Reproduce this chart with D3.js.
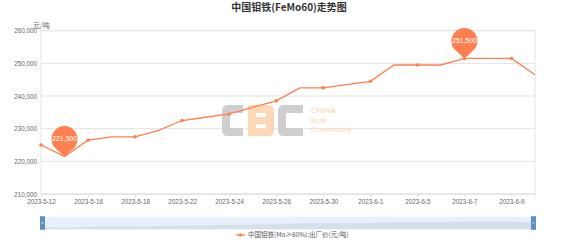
<!DOCTYPE html>
<html><head><meta charset="utf-8">
<script src="https://cdn.jsdelivr.net/npm/d3@7"></script>
<style>
html,body{margin:0;padding:0;background:#fff;}
svg{display:block;font-family:"Liberation Sans",Arial,sans-serif;}
</style></head>
<body><svg id="c" width="576" height="245"></svg>
<script>
const dates = ["2023-5-12","2023-5-15","2023-5-16","2023-5-17","2023-5-18","2023-5-19","2023-5-22","2023-5-23","2023-5-24","2023-5-25","2023-5-26","2023-5-29","2023-5-30","2023-5-31","2023-6-1","2023-6-2","2023-6-5","2023-6-6","2023-6-7","2023-6-8","2023-6-9","2023-6-12"];
const prices = [225000,221500,226500,227500,227500,229500,232500,233500,234500,236500,238500,242500,242500,243500,244500,249500,249500,249500,251500,251500,251500,246500];
const xTickLabels = ["2023-5-12","2023-5-16","2023-5-18","2023-5-22","2023-5-24","2023-5-26","2023-5-30","2023-6-1","2023-6-5","2023-6-7","2023-6-9"];
const yTicks = [210000,220000,230000,240000,250000,260000];
const pinLabels = [{date:"2023-5-15", value:221500, text:"221,500"},{date:"2023-6-7", value:251500, text:"251,500"}];
const title = "中国钼铁(FeMo60)走势图";
const unitLabel = "元/吨";
const legendLabel = "中国钼铁(Mo≥60%):出厂价(元/吨)";

const color = "#ff7f50";
const svg = d3.select("#c");
const L = 41, R = 535, T = 30.7, B = 194;
const x = d3.scalePoint().domain(dates).range([L, R]);
const y = d3.scaleLinear().domain([210000, 260000]).range([B, T]);

// title
svg.append("text").attr("x", 289).attr("y", 10.5).attr("text-anchor","middle")
  .attr("font-size", 10).attr("font-weight","bold").attr("fill","#333")
  .attr("font-family","'Noto Sans CJK SC','Liberation Sans',sans-serif").text(title);
svg.append("text").attr("x", 33).attr("y", 27.5).attr("font-size", 7).attr("fill","#666")
  .attr("font-family","'Noto Sans CJK SC',sans-serif").text(unitLabel);

// grid
svg.append("g").selectAll("line").data(yTicks).join("line")
  .attr("x1", L).attr("x2", R).attr("y1", d=>y(d)).attr("y2", d=>y(d))
  .attr("stroke","#e3e3e3").attr("stroke-width",1);
svg.append("rect").attr("x",L).attr("y",T).attr("width",R-L).attr("height",B-T)
  .attr("fill","none").attr("stroke","#e3e3e3");

// y axis
const yAxis = d3.axisLeft(y).tickValues(yTicks).tickSize(0).tickPadding(4).tickFormat(d3.format(","));
const gy = svg.append("g").attr("transform",`translate(${L},0)`).call(yAxis);
gy.select(".domain").remove();
gy.selectAll("text").attr("font-size",6.3).attr("fill","#666").attr("font-family","'Liberation Sans',Arial,sans-serif");

// x axis
const xAxis = d3.axisBottom(x).tickValues(xTickLabels).tickSize(3).tickPadding(3);
const gx = svg.append("g").attr("transform",`translate(0,${B})`).call(xAxis);
gx.select(".domain").attr("stroke","#e3e3e3");
gx.selectAll(".tick line").attr("stroke","#ddd");
gx.selectAll("text").attr("font-size",6.3).attr("fill","#666").attr("font-family","'Liberation Sans',Arial,sans-serif");

// watermark CBC
const wm = svg.append("g").attr("opacity",1);
function cShape(x0, y0, w, h, fill){
  const t = 8, r = 6;
  const p = `M${x0+r},${y0} H${x0+w} V${y0+t} H${x0+t} V${y0+h-t} H${x0+w} V${y0+h} H${x0+r} Q${x0},${y0+h} ${x0},${y0+h-r} V${y0+r} Q${x0},${y0} ${x0+r},${y0} Z`;
  wm.append("path").attr("d",p).attr("fill",fill);
}
cShape(222, 105, 21, 31, "#cfcfcf");
// B
(function(){
  const x0=248,y0=105,w=26,h=31,t=8;
  wm.append("path").attr("d",
    `M${x0},${y0} H${x0+w-6} Q${x0+w},${y0} ${x0+w},${y0+6} V${y0+h-6} Q${x0+w},${y0+h} ${x0+w-6},${y0+h} H${x0} Z`+
    `M${x0+t},${y0+t} V${y0+12} H${x0+w-t} V${y0+t} Z M${x0+t},${y0+19} V${y0+h-t} H${x0+w-t} V${y0+19} Z`)
    .attr("fill","#fcd9b6").attr("fill-rule","evenodd");
})();
cShape(278, 105, 25, 31, "#cfcfcf");
["CHINA","Bulk","Commodity"].forEach((t,i)=>{
  wm.append("text").attr("x",311).attr("y",113+i*9.7).attr("font-size",8).attr("fill","#fbd6b2").text(t);
});

// line
const line = d3.line().x((d,i)=>x(dates[i])).y(d=>y(d)).curve(d3.curveLinear);
svg.append("path").datum(prices).attr("d",line).attr("fill","none").attr("stroke",color).attr("stroke-width",1.3);
svg.append("g").selectAll("circle").data(prices.map((v,i)=>({v,i})).filter(d=>d.i%2===0)).join("circle")
  .attr("cx",d=>x(dates[d.i])).attr("cy",d=>y(d.v)).attr("r",1.8).attr("fill",color);

// pins
pinLabels.forEach(p=>{
  const px = x(p.date), py = y(p.value);
  const r = 13, d = 17.5;
  const cy = py - d;
  const a = Math.acos(r/d);
  const ang = Math.PI/2; // downward direction
  const x1 = px + r*Math.cos(ang - a), y1 = cy + r*Math.sin(ang - a);
  const x2 = px + r*Math.cos(ang + a), y2 = cy + r*Math.sin(ang + a);
  svg.append("path").attr("d",`M${px},${py} L${x2},${y2} A${r},${r} 0 1 1 ${x1},${y1} Z`).attr("fill",color);
  svg.append("text").attr("x",px).attr("y",cy+2.3).attr("text-anchor","middle").attr("font-size",6.8).attr("fill","#fff").text(p.text);
});

// data zoom slider
const sT = 216.7, sB = 229.3;
svg.append("rect").attr("x",L).attr("y",sT).attr("width",R-L).attr("height",sB-sT).attr("fill","#e7f1fb");
const sy = d3.scaleLinear().domain([214000, 274500]).range([sB, sT]);
const area = d3.area().x((d,i)=>x(dates[i])).y0(sB).y1(d=>sy(d));
svg.append("path").datum(prices).attr("d",area).attr("fill","#d6e0ea");
[[L-1,0],[R-4,0]].forEach(([hx])=>{
  svg.append("rect").attr("x",hx).attr("y",sT-0.5).attr("width",5).attr("height",sB-sT+1).attr("fill","#5f8fc2");
  svg.append("line").attr("x1",hx+1.5).attr("x2",hx+3.5).attr("y1",(sT+sB)/2).attr("y2",(sT+sB)/2).attr("stroke","#dfe9f4").attr("stroke-width",1);
});

// legend
svg.append("line").attr("x1",236).attr("x2",245).attr("y1",235).attr("y2",235).attr("stroke",color).attr("stroke-width",1.3);
svg.append("circle").attr("cx",240.5).attr("cy",235).attr("r",1.8).attr("fill",color);
svg.append("text").attr("x",248).attr("y",237.3).attr("font-size",6.5).attr("fill","#555")
  .attr("font-family","'Noto Sans CJK SC',sans-serif").text(legendLabel);
</script></body></html>
